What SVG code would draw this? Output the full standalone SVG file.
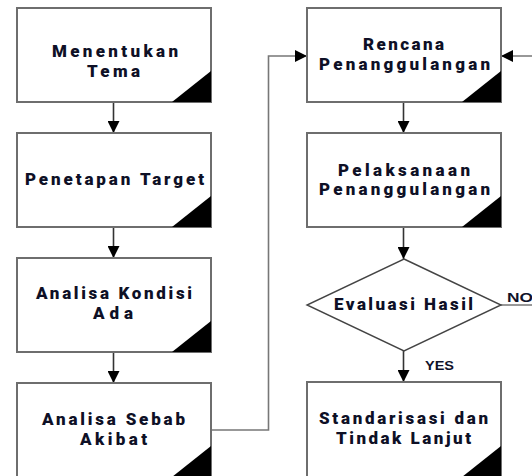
<svg xmlns="http://www.w3.org/2000/svg" width="532" height="476" viewBox="0 0 532 476">
<defs>
<marker id="ah" viewBox="0 0 12 12" refX="12" refY="6" markerWidth="12" markerHeight="12" markerUnits="userSpaceOnUse" orient="auto">
<path d="M0,0 L12,6 L0,12 Z" fill="#000"/>
</marker>
</defs>
<style>
.box{fill:#fff;stroke:#6e6e6e;stroke-width:2}
.dia{fill:#fff;stroke:#444;stroke-width:1.4}
.tri{fill:#000}
.t{font-family:Roboto,"Liberation Sans",sans-serif;font-weight:900;font-size:17px;fill:#0e1026}
.lbl{font-family:"Liberation Sans",Arial,sans-serif;font-weight:700;font-size:12.5px;fill:#10122a}
.c{fill:none;stroke:#333;stroke-width:1.6}
.cg{fill:none;stroke:#777;stroke-width:1.6}
</style>
<rect width="532" height="476" fill="#fff"/>
<g id="connectors">
<path class="c" d="M113.5,102 V133" marker-end="url(#ah)"/>
<path class="c" d="M113.5,227 V258" marker-end="url(#ah)"/>
<path class="c" d="M113.5,352 V383" marker-end="url(#ah)"/>
<path class="c" d="M403.5,102 V133" marker-end="url(#ah)"/>
<path class="c" d="M403.5,227 V259" marker-end="url(#ah)"/>
<path class="c" d="M403.5,351 V382" marker-end="url(#ah)"/>
<path class="cg" d="M211,430 H268.5 V56 H307" marker-end="url(#ah)"/>
<path class="cg" d="M501,305 H534 V56 H501" marker-end="url(#ah)"/>
</g>
<g id="n1">
<rect class="box" x="17" y="8" width="194" height="94"/>
<path class="tri" d="M211,71 V102 H172 Z"/>
<text class="t" x="52" y="57" textLength="126" lengthAdjust="spacing">Menentukan</text>
<text class="t" x="87" y="77" textLength="53" lengthAdjust="spacing">Tema</text>
</g>
<g id="n2">
<rect class="box" x="17" y="133" width="194" height="94"/>
<path class="tri" d="M211,196 V227 H172 Z"/>
<text class="t" x="25" y="185" textLength="179" lengthAdjust="spacing">Penetapan Target</text>
</g>
<g id="n3">
<rect class="box" x="17" y="258" width="194" height="94"/>
<path class="tri" d="M211,321 V352 H172 Z"/>
<text class="t" x="36" y="299" textLength="156" lengthAdjust="spacing">Analisa Kondisi</text>
<text class="t" x="93" y="319" textLength="40" lengthAdjust="spacing">Ada</text>
</g>
<g id="n4">
<rect class="box" x="17" y="383" width="194" height="94"/>
<path class="tri" d="M211,446 V477 H172 Z"/>
<text class="t" x="42" y="425" textLength="143" lengthAdjust="spacing">Analisa Sebab</text>
<text class="t" x="80" y="445" textLength="67" lengthAdjust="spacing">Akibat</text>
</g>
<g id="n5">
<rect class="box" x="307" y="8" width="194" height="94"/>
<path class="tri" d="M501,71 V102 H462 Z"/>
<text class="t" x="363" y="50" textLength="81" lengthAdjust="spacing">Rencana</text>
<text class="t" x="319" y="70" textLength="171" lengthAdjust="spacing">Penanggulangan</text>
</g>
<g id="n6">
<rect class="box" x="307" y="133" width="194" height="94"/>
<path class="tri" d="M501,196 V227 H462 Z"/>
<text class="t" x="338" y="176" textLength="132" lengthAdjust="spacing">Pelaksanaan</text>
<text class="t" x="319" y="195" textLength="171" lengthAdjust="spacing">Penanggulangan</text>
</g>
<g id="n7">
<path class="dia" d="M404,259 L501,305 L404,351 L307,305 Z"/>
<text class="t" x="334" y="310" textLength="139" lengthAdjust="spacing">Evaluasi Hasil</text>
</g>
<g id="n8">
<rect class="box" x="307" y="382" width="194" height="95"/>
<path class="tri" d="M501,446 V477 H462 Z"/>
<text class="t" x="319" y="424" textLength="169" lengthAdjust="spacing">Standarisasi dan</text>
<text class="t" x="336" y="444" textLength="135" lengthAdjust="spacing">Tindak Lanjut</text>
</g>
<g id="labels">
<text class="lbl" x="507" y="302" textLength="26" lengthAdjust="spacingAndGlyphs">NO</text>
<text class="lbl" x="425" y="370" textLength="29" lengthAdjust="spacingAndGlyphs">YES</text>
</g>
</svg>
